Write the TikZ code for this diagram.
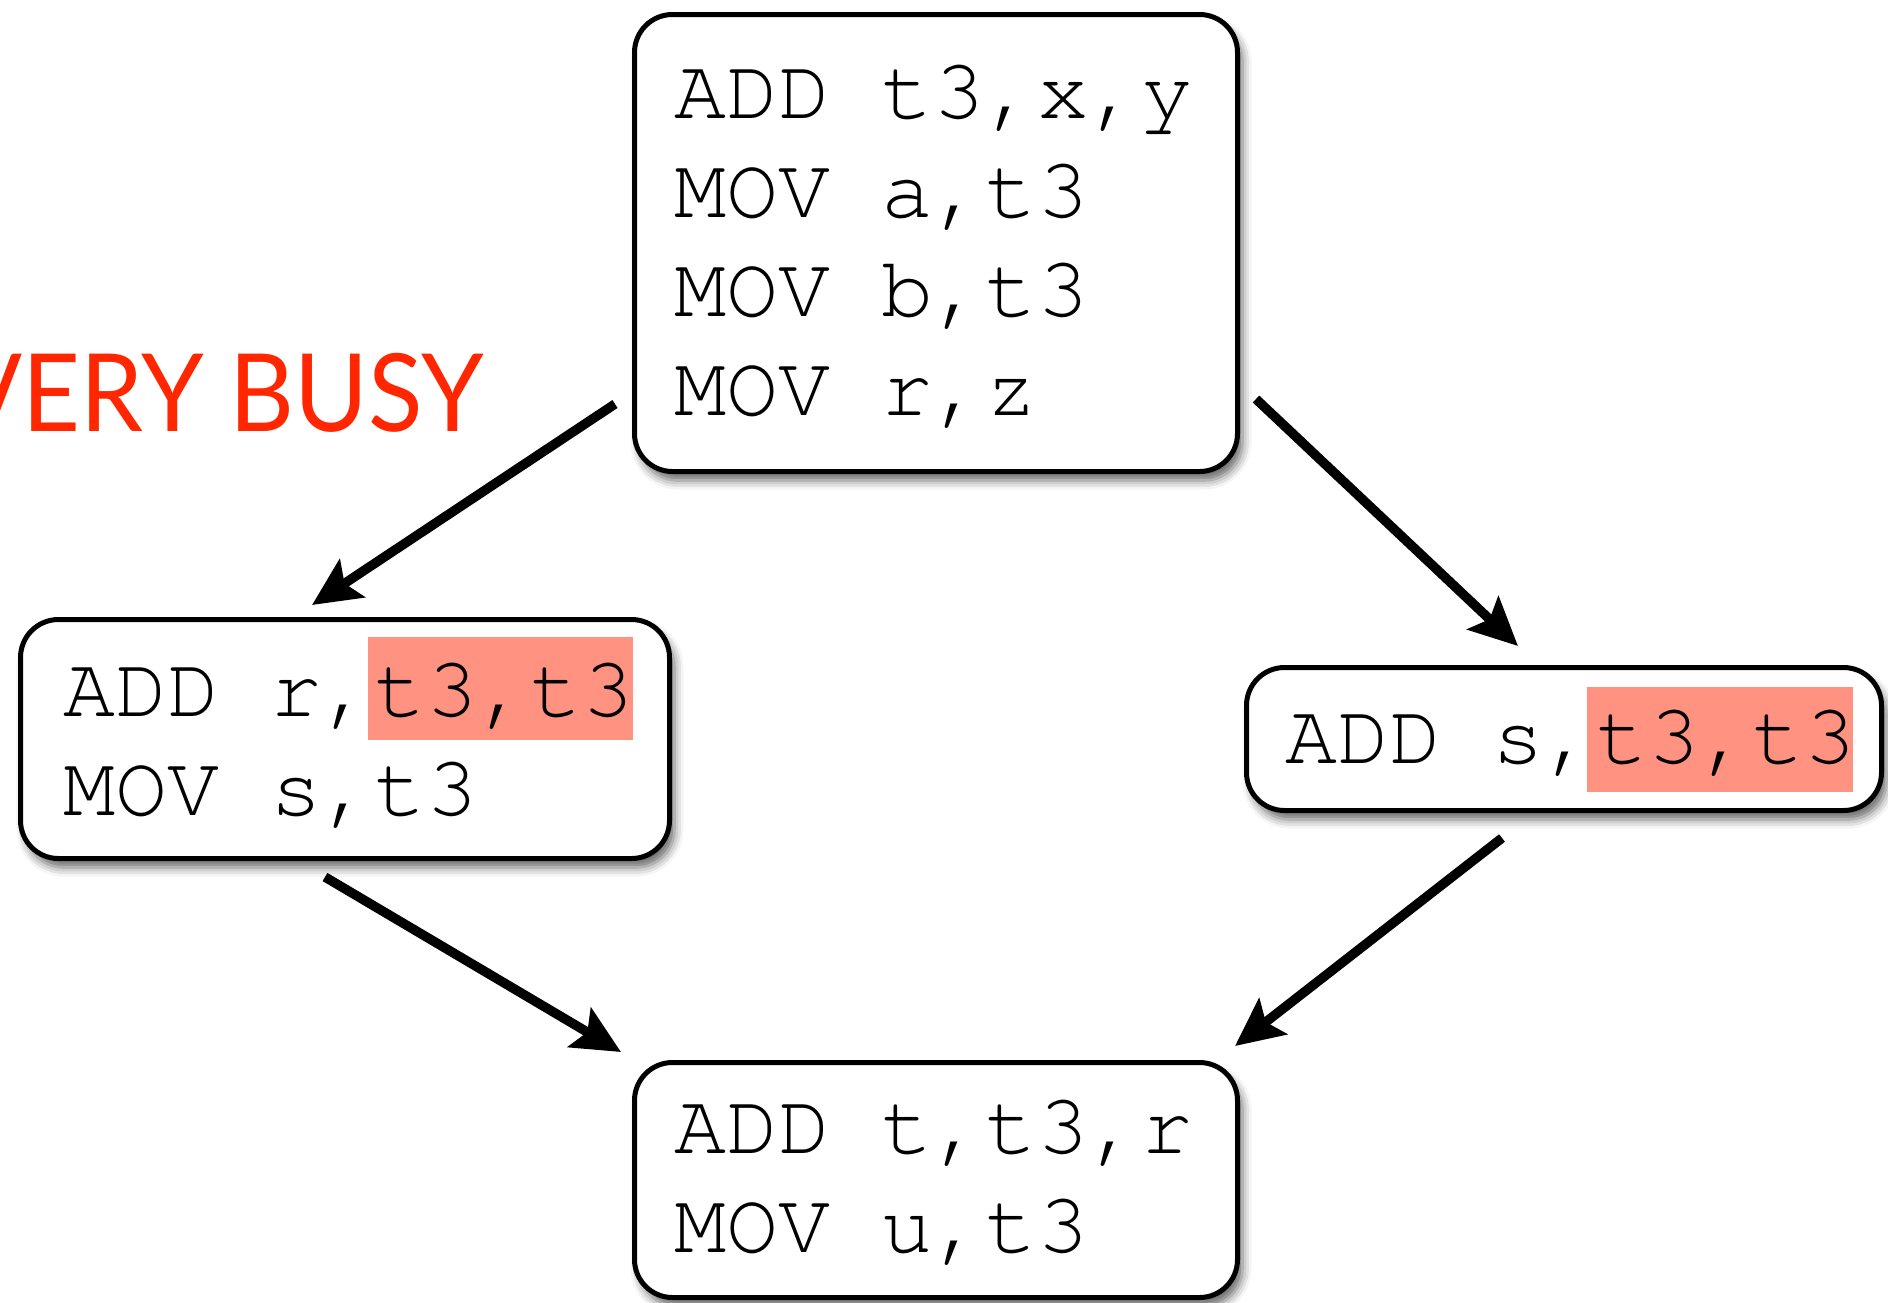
\documentclass[tikz,border=0pt]{standalone}
\usepackage{fontspec}
\newfontfamily\codefont{TeX Gyre Cursor}
\newfontfamily\busyfont{Lato}
\usetikzlibrary{arrows.meta,shadows.blur}
\definecolor{busyred}{RGB}{255,38,0}
\definecolor{hilite}{RGB}{255,146,128}
\tikzset{
  box/.style={draw=black, line width=5pt, rounded corners=38pt, fill=white, inner sep=0pt, anchor=north west,
    blur shadow={shadow xshift=5pt, shadow yshift=-9pt, shadow blur radius=9pt, shadow opacity=60}},
  code/.style={font=\codefont\fontsize{86.5}{99}\selectfont, anchor=base west, inner sep=0pt},
  hl/.style={fill=hilite, draw=none, inner sep=0pt, anchor=north west},
  flow/.style={line width=9.5pt, -{Stealth[length=48pt,width=45pt,inset=9pt]}},
}
\begin{document}
\begin{tikzpicture}[x=1pt,y=-1pt]
\useasboundingbox (0,0) rectangle (1888,1302);
\clip (0,0) rectangle (1888,1302);
% boxes
\node[box, minimum width=603pt, minimum height=457pt] (top) at (632,12) {};
\node[box, minimum width=649pt, minimum height=239pt] (left) at (18,617) {};
\node[box, minimum width=635pt, minimum height=143pt] (right) at (1244,665) {};
\node[box, minimum width=603pt, minimum height=235pt] (bottom) at (632,1060) {};
% highlights
\node[hl, minimum width=265pt, minimum height=103pt] (hlL) at (368,637) {};
\node[hl, minimum width=266pt, minimum height=105pt] (hlR) at (1587,687) {};
% code text
\node[code] (t1) at (674,118) {ADD t3,x,y};
\node[code] (t2) at (674,217) {MOV a,t3};
\node[code] (t3) at (674,316) {MOV b,t3};
\node[code] (t4) at (674,415) {MOV r,z};
\node[code] (l1) at (63,716) {ADD r,t3,t3};
\node[code] (l2) at (63,815) {MOV s,t3};
\node[code] (r1) at (1285,763) {ADD s,t3,t3};
\node[code] (b1) at (674,1153) {ADD t,t3,r};
\node[code] (b2) at (674,1252) {MOV u,t3};
% title
\node[font=\busyfont\fontsize{108}{108}\selectfont, text=busyred, anchor=base east, inner sep=0pt, xscale=0.93] (vb) at (484,431) {VERY BUSY};
% arrows
\draw[flow] ([shift={(-17,-70)}]top.south west) -- ([shift={(294,-12)}]left.north west);
\draw[flow] ([shift={(16,-75)}]top.south east) -- ([shift={(274,-19)}]right.north west);
\draw[flow] ([shift={(307,16)}]left.south west) -- ([shift={(-11,-8)}]bottom.north west);
\draw[flow] ([shift={(258,25)}]right.south west) -- ([shift={(-5,-14)}]bottom.north east);
\end{tikzpicture}
\end{document}
